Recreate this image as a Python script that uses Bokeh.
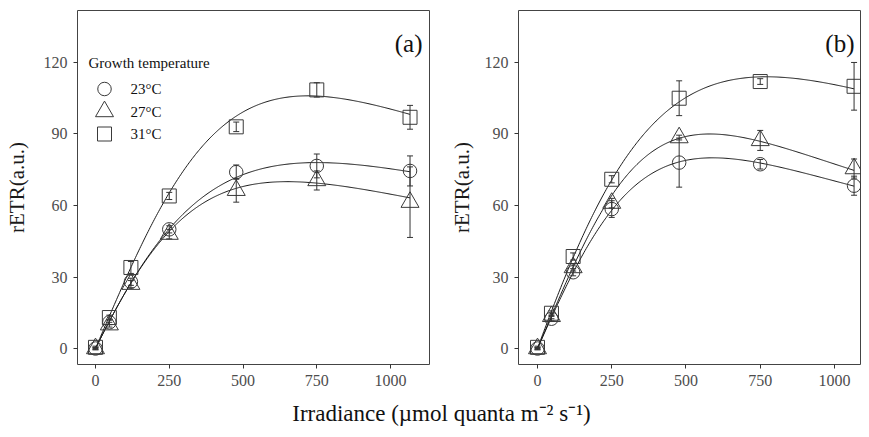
import numpy as np
from bokeh.plotting import figure
from bokeh.models import ColumnDataSource, Whisker, TeeHead, Label, Range1d, FixedTicker
from bokeh.layouts import column, row
from bokeh.embed import file_html
from bokeh.resources import INLINE

# ---------------- data ----------------
irradiance = [0, 47, 120, 250, 477, 750, 1066]
temperatures = ["23°C", "27°C", "31°C"]

# panel (a)
a_rETR_23 = [0, 11, 28, 50, 74, 76.6, 74.5]
a_sd_23 = [0.5, 1.0, 1.5, 1.5, 3.0, 5.0, 6.3]
a_rETR_27 = [0, 10, 27, 48, 66.4, 70.5, 61.4]
a_sd_27 = [0.5, 1.0, 1.5, 2.0, 5.0, 4.0, 14.8]
a_rETR_31 = [0.5, 13, 34, 64, 93, 108.5, 97]
a_sd_31 = [0.5, 1.0, 2.5, 1.5, 2.0, 3.0, 5.0]

# panel (b)
b_rETR_23 = [0, 12.5, 32, 58.5, 78, 77.3, 68.3]
b_sd_23 = [0.5, 1.0, 1.5, 3.5, 10.3, 2.0, 4.0]
b_rETR_27 = [0, 13.5, 34, 61, 88.5, 87.3, 75.5]
b_sd_27 = [0.5, 1.0, 1.5, 2.0, 1.0, 4.2, 4.0]
b_rETR_31 = [0.5, 14.8, 38.6, 71, 105, 112, 110]
b_sd_31 = [0.5, 1.0, 1.5, 1.5, 7.3, 1.2, 10.0]

# fitted light-curve parameters (initial slope, optimal irradiance, max rETR) per temperature
a_alpha = [0.25, 0.25, 0.29]
a_iopt = [750, 650, 720]
a_pmax = [78, 70, 106]
b_alpha = [0.28, 0.29, 0.34]
b_iopt = [590, 580, 770]
b_pmax = [80, 90, 114]

x_ticks = [0, 250, 500, 750, 1000]
y_ticks = [0, 30, 60, 90, 120]
y_label = "rETR(a.u.)"
x_label = "Irradiance (µmol quanta m⁻² s⁻¹)"
legend_title = "Growth temperature"

# ---------------- styling ----------------
SERIF = "Liberation Serif"
MARKERS = ["circle", "triangle", "square"]
MSIZE = [13.5, 18, 14]
MCOLOR = "#3a3a3a"
Y_RANGE = (-6.7, 141.8)
TOP_PX, BOTTOM_PX = 10, 364   # frame top/bottom in canvas pixels


def ep_curve(I, alpha, iopt, pmax):
    c = 1.0 / alpha
    a = c / iopt ** 2
    b = 1.0 / pmax - 2.0 * c / iopt
    return I / (a * I ** 2 + b * I + c)


def make_panel(width, b_left, b_right, xr, left_px, right_px, series, sds,
               alphas, iopts, pmaxs, tag, ylab_standoff, legend=False):
    p = figure(width=width, height=400, output_backend="svg", toolbar_location=None,
               x_range=Range1d(*xr), y_range=Range1d(*Y_RANGE),
               min_border_left=b_left, min_border_right=b_right,
               min_border_top=TOP_PX, min_border_bottom=400 - BOTTOM_PX)
    p.background_fill_color = "white"
    p.border_fill_color = "white"
    p.outline_line_color = "#444444"
    p.outline_line_width = 1
    p.xgrid.visible = False
    p.ygrid.visible = False
    p.xaxis.ticker = FixedTicker(ticks=x_ticks)
    p.yaxis.ticker = FixedTicker(ticks=y_ticks)
    for ax in (p.xaxis, p.yaxis):
        ax.axis_line_color = None
        ax.major_tick_line_color = "#333333"
        ax.major_tick_out = 4
        ax.major_tick_in = 0
        ax.minor_tick_line_color = None
        ax.major_label_text_font = SERIF
        ax.major_label_text_font_size = "16px"
        ax.major_label_text_color = "#4d4d4d"
        ax.major_label_standoff = 6
    p.yaxis.axis_label = y_label
    p.yaxis.axis_label_text_font = SERIF
    p.yaxis.axis_label_text_font_size = "21px"
    p.yaxis.axis_label_text_font_style = "normal"
    p.yaxis.axis_label_text_color = "#1a1a1a"
    p.yaxis.axis_label_standoff = ylab_standoff

    def px2x(px):
        return xr[0] + (px - left_px) / (right_px - left_px) * (xr[1] - xr[0])

    def px2y(py):
        return Y_RANGE[1] - (py - TOP_PX) / (BOTTOM_PX - TOP_PX) * (Y_RANGE[1] - Y_RANGE[0])

    xs = np.linspace(0, max(irradiance), 300)
    for i in range(3):
        ys = ep_curve(xs, alphas[i], iopts[i], pmaxs[i])
        p.line(xs, ys, line_color="#1a1a1a", line_width=1)

    for i in range(3):
        vals = np.array(series[i], dtype=float)
        err = np.array(sds[i], dtype=float)
        src = ColumnDataSource(dict(x=irradiance, y=vals, upper=vals + err, lower=vals - err))
        w = Whisker(source=src, base="x", upper="upper", lower="lower",
                    line_color="#333333", line_width=1,
                    upper_head=TeeHead(size=6, line_color="#333333", line_width=1),
                    lower_head=TeeHead(size=6, line_color="#333333", line_width=1),
                    level="glyph")
        p.add_layout(w)
        p.scatter("x", "y", source=src, marker=MARKERS[i], size=MSIZE[i],
                  fill_color=None, line_color=MCOLOR, line_width=1)

    # panel tag
    p.add_layout(Label(x=px2x(right_px - 7), y=px2y(43), text=tag, text_font=SERIF,
                       text_font_size="25px", text_align="right", text_baseline="middle",
                       text_color="#111111"))

    if legend:
        p.add_layout(Label(x=px2x(88), y=px2y(62), text=legend_title, text_font=SERIF,
                           text_font_size="15px", text_align="left", text_baseline="middle",
                           text_color="#111111"))
        rows = [88.5, 111, 133.5]
        for i in range(3):
            p.scatter([px2x(104)], [px2y(rows[i])], marker=MARKERS[i], size=MSIZE[i],
                      fill_color=None, line_color=MCOLOR, line_width=1)
            p.add_layout(Label(x=px2x(130), y=px2y(rows[i]), text=temperatures[i],
                               text_font=SERIF, text_font_size="15px", text_align="left",
                               text_baseline="middle", text_color="#111111"))
    return p


# panel (a): canvas x 0..438, frame 77..429 ; panel (b): canvas x 438..861, frame 518..861
pa = make_panel(438, 77, 9, (-61, 1132), 77, 429,
                [a_rETR_23, a_rETR_27, a_rETR_31], [a_sd_23, a_sd_27, a_sd_31],
                a_alpha, a_iopt, a_pmax, "(a)", 12, legend=True)
pb = make_panel(423, 80, 0, (-64, 1091), 518, 861,
                [b_rETR_23, b_rETR_27, b_rETR_31], [b_sd_23, b_sd_27, b_sd_31],
                b_alpha, b_iopt, b_pmax, "(b)", 8)

pl = figure(width=861, height=29, output_backend="svg", toolbar_location=None,
            x_range=Range1d(0, 861), y_range=Range1d(0, 29),
            x_axis_type=None, y_axis_type=None,
            min_border_left=0, min_border_right=0, min_border_top=0, min_border_bottom=0)
pl.outline_line_color = None
pl.xgrid.visible = False
pl.ygrid.visible = False
pl.add_layout(Label(x=441, y=16, text=x_label, text_font=SERIF, text_font_size="23px",
                    text_align="center", text_baseline="middle", text_color="#111111"))

layout = column(row(pa, pb), pl)
open("out.html", "w").write(file_html(layout, INLINE))
